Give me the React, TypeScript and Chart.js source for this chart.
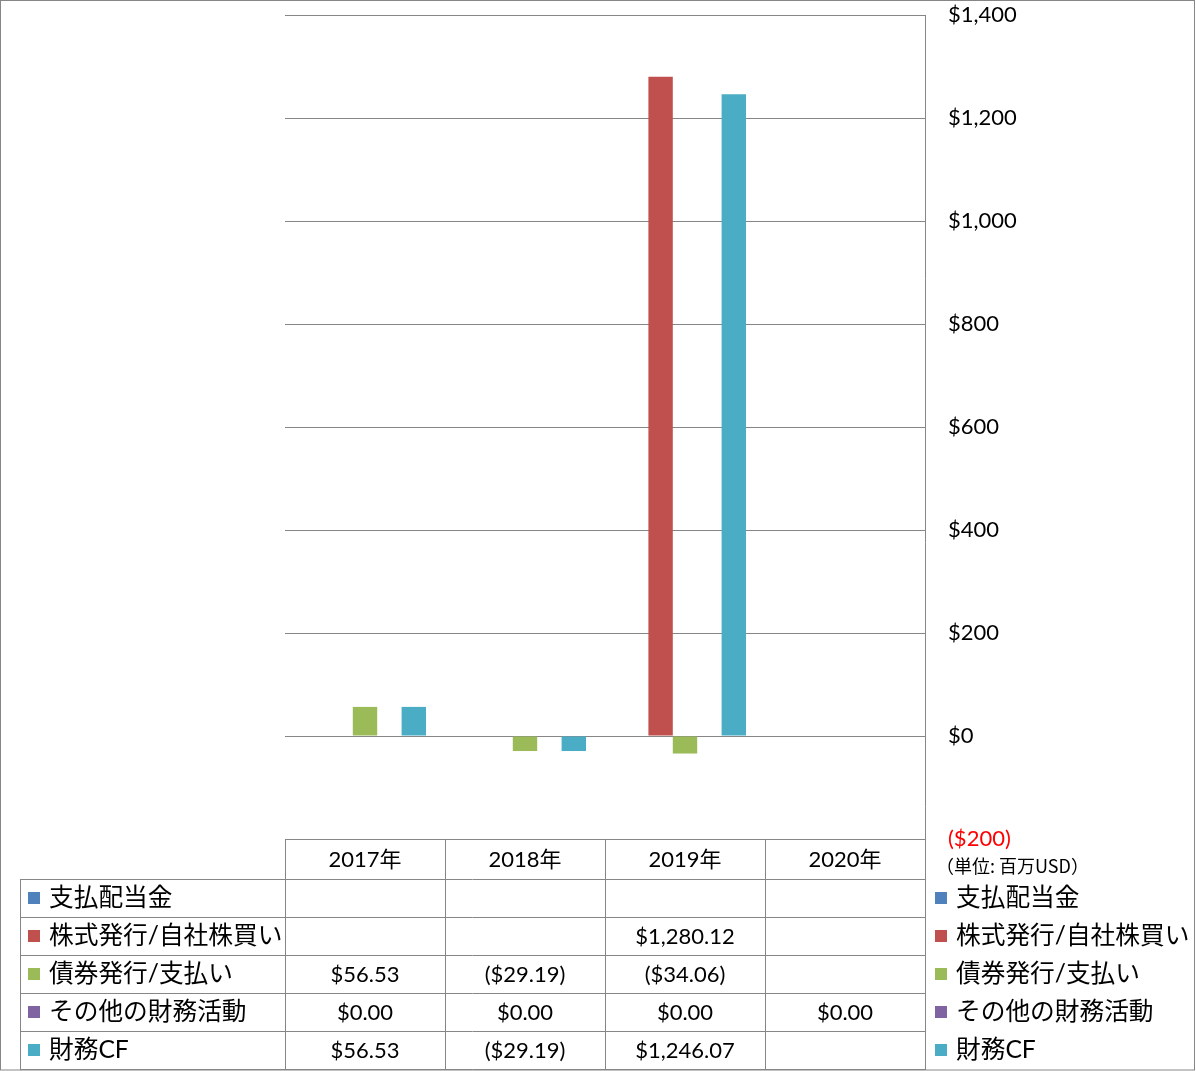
import React, { useEffect, useRef } from "react";
import { Chart, registerables } from "chart.js";

Chart.register(...registerables);

const categories = ["2017年", "2018年", "2019年", "2020年"];
const seriesNames = ["支払配当金", "株式発行/自社株買い", "債券発行/支払い", "その他の財務活動", "財務CF"];
const seriesColors = ["#4F81BD", "#C0504D", "#9BBB59", "#8064A2", "#4BACC6"];
const dividends: (number | null)[] = [null, null, null, null];
const equity: (number | null)[] = [null, null, 1280.12, null];
const debt: (number | null)[] = [56.53, -29.19, -34.06, null];
const otherFin: (number | null)[] = [0, 0, 0, 0];
const financingCF: (number | null)[] = [56.53, -29.19, 1246.07, null];
const seriesValues = [dividends, equity, debt, otherFin, financingCF];
const yMin = -200;
const yMax = 1400;
const yStep = 200;
const unitLabel = "（単位: 百万USD）";

const W = 1196;
const H = 1071;
const LINE = "#868686";
const NUM_FONT = "22px Lato, 'Noto Sans CJK JP', sans-serif";
const JP_FONT = "24.7px Lato, 'Noto Sans CJK JP', sans-serif";

function fmtMoney(v: number, decimals: number): string {
  const s = Math.abs(v).toLocaleString("en-US", {
    minimumFractionDigits: decimals,
    maximumFractionDigits: decimals,
  });
  return v < 0 ? `($${s})` : `$${s}`;
}

const tablePlugin = {
  id: "tablePlugin",
  beforeDraw(chart: any) {
    const ctx = chart.ctx;
    ctx.save();
    ctx.fillStyle = "#ffffff";
    ctx.fillRect(0, 0, W, H);
    ctx.restore();
  },
  afterDraw(chart: any) {
    const ctx = chart.ctx;
    const area = chart.chartArea;
    const xs = chart.scales.x;
    const left = area.left;
    const right = area.right;
    const colW = (right - left) / categories.length;
    const headerTop = area.bottom;
    const headerBottom = headerTop + 40;
    const rowH = 38;
    const tableLeft = 20;
    const tableBottom = headerBottom + rowH * seriesNames.length;

    ctx.save();
    ctx.strokeStyle = LINE;
    ctx.lineWidth = 1;
    const hline = (x1: number, x2: number, y: number) => {
      ctx.beginPath();
      ctx.moveTo(x1, Math.round(y) + 0.5);
      ctx.lineTo(x2, Math.round(y) + 0.5);
      ctx.stroke();
    };
    const vline = (x: number, y1: number, y2: number) => {
      ctx.beginPath();
      ctx.moveTo(Math.round(x) + 0.5, y1);
      ctx.lineTo(Math.round(x) + 0.5, y2);
      ctx.stroke();
    };
    hline(left, right, headerTop);
    for (let i = 0; i <= seriesNames.length; i++) {
      hline(tableLeft, right, headerBottom + i * rowH);
    }
    vline(tableLeft, headerBottom, tableBottom + 1);
    for (let c = 0; c < categories.length; c++) {
      vline(left + c * colW, headerTop, tableBottom + 1);
    }
    vline(right, area.top, tableBottom + 1);
    ctx.strokeRect(0.5, 0.5, W - 2, tableBottom + 1 - 0.5);

    ctx.textBaseline = "middle";
    ctx.fillStyle = "#000000";
    ctx.font = NUM_FONT;
    ctx.textAlign = "center";
    for (let c = 0; c < categories.length; c++) {
      const cx = xs.getPixelForValue(c);
      ctx.fillText(categories[c], cx, (headerTop + headerBottom) / 2 + 1);
    }
    for (let s = 0; s < seriesNames.length; s++) {
      const cy = headerBottom + s * rowH + rowH / 2;
      ctx.fillStyle = seriesColors[s];
      ctx.fillRect(28, Math.round(cy) - 6, 12, 12);
      ctx.fillRect(935, Math.round(cy) - 6, 12, 12);
      ctx.fillStyle = "#000000";
      ctx.font = JP_FONT;
      ctx.textAlign = "left";
      ctx.fillText(seriesNames[s], 49, cy);
      ctx.fillText(seriesNames[s], 956, cy);
      ctx.font = NUM_FONT;
      ctx.textAlign = "center";
      const vals = seriesValues[s];
      for (let c = 0; c < categories.length; c++) {
        const v = vals[c];
        if (v === null || v === undefined) continue;
        ctx.fillText(fmtMoney(v, 2), xs.getPixelForValue(c), cy + 1);
      }
    }
    ctx.font = "18px 'Noto Sans CJK JP', sans-serif";
    ctx.textAlign = "left";
    ctx.fillText(unitLabel, 936, 866);
    ctx.restore();
  },
};

export default function App() {
  const ref = useRef<HTMLCanvasElement>(null);
  useEffect(() => {
    if (!ref.current) return;
    const chart = new Chart(ref.current, {
      type: "bar",
      data: {
        labels: categories,
        datasets: seriesNames.map((name, i) => ({
          label: name,
          data: seriesValues[i],
          backgroundColor: seriesColors[i],
          borderWidth: 0,
          categoryPercentage: 0.7625,
          barPercentage: 1,
        })),
      },
      options: {
        responsive: false,
        animation: false,
        devicePixelRatio: 1,
        layout: { padding: { left: 285, top: 15, bottom: 232, right: 0 } },
        plugins: {
          legend: { display: false },
          tooltip: { enabled: false },
        },
        scales: {
          x: {
            display: false,
            offset: true,
            grid: { display: false },
          },
          y: {
            position: "right",
            min: yMin,
            max: yMax,
            border: { display: false },
            grid: {
              color: LINE,
              lineWidth: 1,
              drawTicks: false,
            },
            afterFit: (scale: any) => {
              scale.width = 271;
              scale.paddingTop = 0;
              scale.paddingBottom = 0;
            },
            ticks: {
              stepSize: yStep,
              padding: 23,
              crossAlign: "near",
              font: { family: "Lato, 'Noto Sans CJK JP', sans-serif", size: 22 },
              color: (c: any) => (c.tick && c.tick.value < 0 ? "#FF0000" : "#000000"),
              callback: (v: any) => fmtMoney(Number(v), 0),
            },
          },
        },
      },
      plugins: [tablePlugin],
    });
    return () => chart.destroy();
  }, []);
  return (
    <div style={{ position: "fixed", left: 0, top: 0, width: W, height: H, background: "#fff" }}>
      <canvas ref={ref} width={W} height={H} style={{ display: "block", width: W, height: H }} />
    </div>
  );
}
